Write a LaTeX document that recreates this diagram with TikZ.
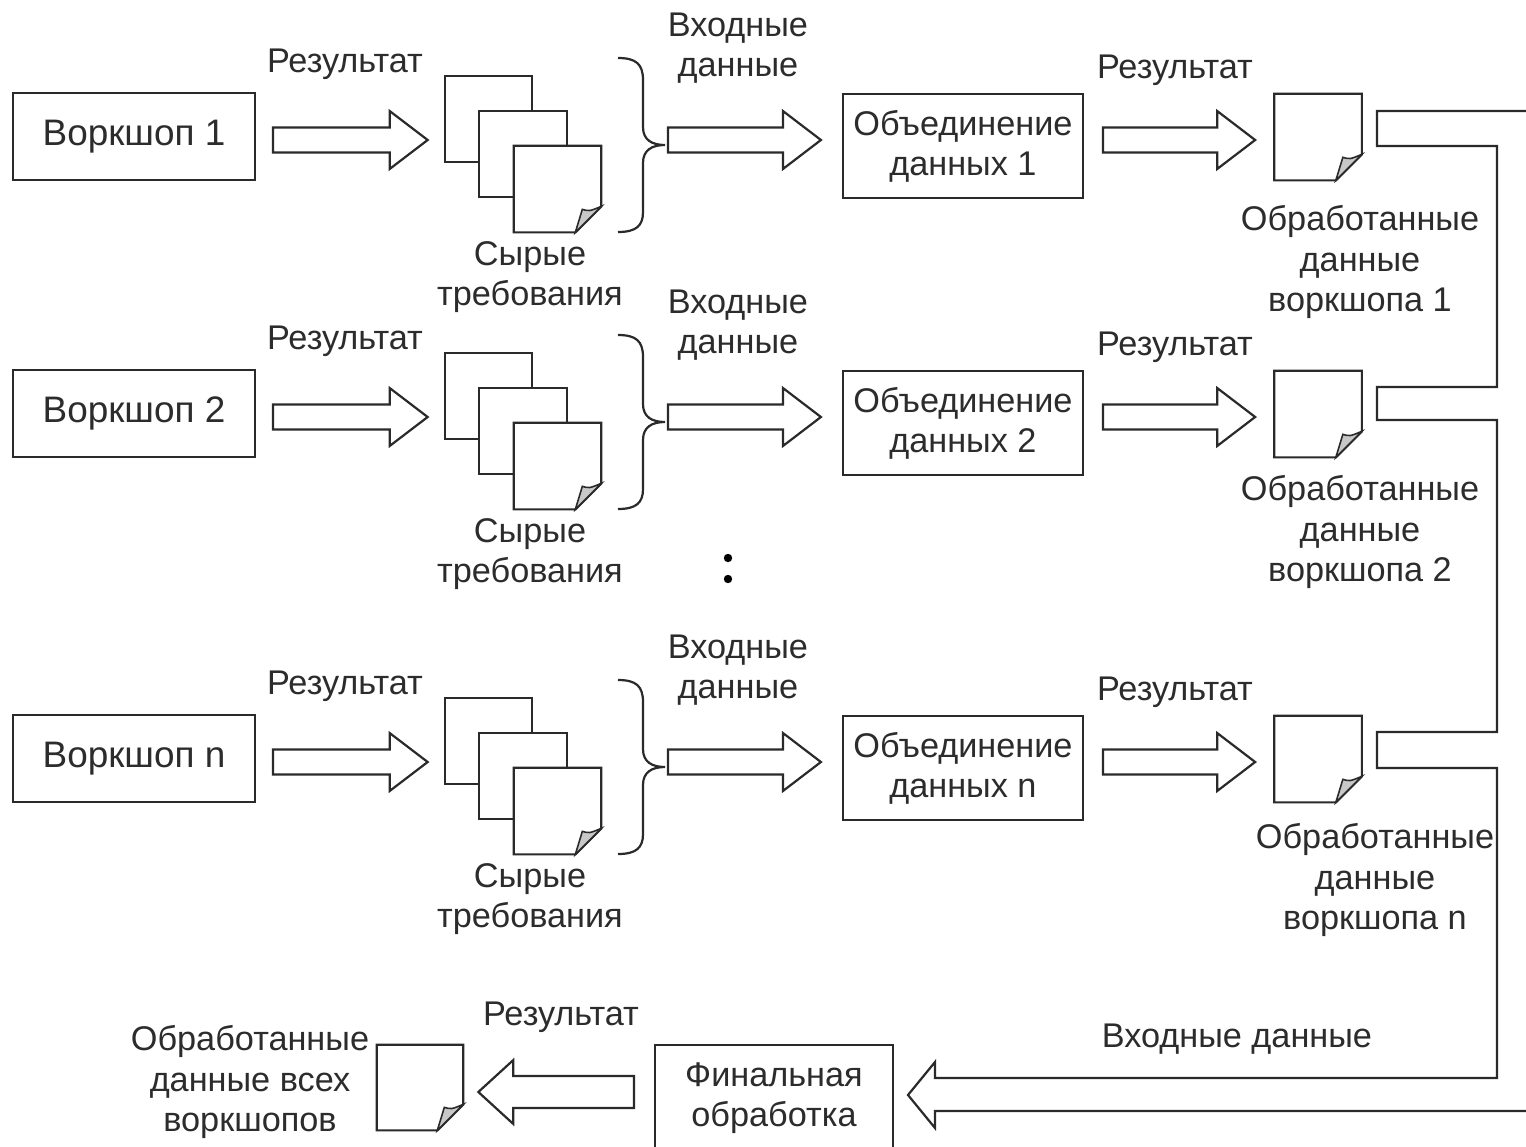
\documentclass[tikz,border=0pt]{standalone}
\usepackage{fontspec}
\setmainfont{Liberation Sans}
\usetikzlibrary{calc}
\definecolor{ink}{HTML}{2A2A2A}
\definecolor{txt}{HTML}{2C2C2C}
\definecolor{foldgray}{HTML}{C8C8C8}
\tikzset{
  ln/.style={draw=ink, line width=1.25pt, line join=miter},
  wbox/.style={ln, rectangle, inner sep=0pt, align=center, text=txt, font=\fontsize{19.5}{22.8}\selectfont},
  lbl/.style={align=center, text=txt, font=\fontsize{19.5}{22.8}\selectfont, inner sep=0pt},
  docnode/.style={rectangle, inner sep=0pt, minimum width=1.74cm, minimum height=1.72cm},
  fatR/.style={ln, fill=white, to path={let \p1=(\tikztostart), \p2=(\tikztotarget) in
     (\x1,{\y1+0.25cm}) -- ({\x2-0.76cm},{\y1+0.25cm}) -- ({\x2-0.76cm},{\y1+0.58cm}) -- (\x2,\y1)
     -- ({\x2-0.76cm},{\y1-0.58cm}) -- ({\x2-0.76cm},{\y1-0.25cm}) -- (\x1,{\y1-0.25cm}) -- cycle}},
  fatL/.style={ln, fill=white, to path={let \p1=(\tikztostart), \p2=(\tikztotarget) in
     (\x1,{\y1+0.32cm}) -- ({\x2+0.7cm},{\y1+0.32cm}) -- ({\x2+0.7cm},{\y1+0.64cm}) -- (\x2,\y1)
     -- ({\x2+0.7cm},{\y1-0.64cm}) -- ({\x2+0.7cm},{\y1-0.32cm}) -- (\x1,{\y1-0.32cm}) -- cycle}},
}
\newcommand\docfold[1]{%
  \draw[ln, fill=white] (#1.north west) -- (#1.north east) -- ($(#1.south east)+(0,-26)$)
     -- ($(#1.south east)+(-26,0)$) -- (#1.south west) -- cycle;
  \draw[ln, line width=0.9pt, fill=foldgray] ($(#1.south east)+(-26,0)$) -- ($(#1.south east)+(-19,-23)$)
     .. controls ($(#1.south east)+(-12,-21)$) .. ($(#1.south east)+(0,-26)$) -- cycle;
}
\newcommand\wsrow[5]{%
  \node[wbox, minimum width=4.84cm, minimum height=1.74cm, font=\fontsize{21}{24}\selectfont] (w#1) at (134,{136.5+#3}) {Воркшоп #2};
  \node[lbl] (r#1) at (345,{64+#3}) {Результат};
  \node[docnode] (s#1a) at (488.5,{119+#3}) {};
  \node[docnode] (s#1b) at (523,{154+#3}) {};
  \node[docnode] (s#1c) at (557.5,{189+#3}) {};
  \draw[ln, fill=white] (s#1a.north west) rectangle (s#1a.south east);
  \draw[ln, fill=white] (s#1b.north west) rectangle (s#1b.south east);
  \docfold{s#1c}
  \node[lbl] (sy#1) at (530,{277+#3}) {Сырые\\требования};
  \coordinate (br#1) at (665,{145+#3});
  \draw[ln] (618,{58+#3}) .. controls (636,{58+#3}) and (643,{64+#3}) .. (643,{80+#3})
     -- (643,{127+#3}) .. controls (643,{140+#3}) and (652,{145+#3}) .. (br#1)
     .. controls (652,{145+#3}) and (643,{150+#3}) .. (643,{163+#3})
     -- (643,{212+#3}) .. controls (643,{226+#3}) and (636,{232+#3}) .. (618,{232+#3});
  \node[lbl] (in#1) at (738,{48+#3}) {Входные\\данные};
  \node[wbox, minimum width=4.8cm, minimum height=2.08cm] (m#1) at (963,{146+#3}) {Объединение\\данных #2};
  \node[lbl] (rr#1) at (1175,{70+#3}) {Результат};
  \node[docnode] (p#1) at (1318,{137+#3}) {};
  \docfold{p#1}
  \node[lbl] (o#1) at (#4,#5) {Обработанные\\данные\\воркшопа #2};
  \draw[fatR] ($(w#1.east)+(17,3.5)$) to ($(s#1a.west)+(-17,0)$);
  \draw[fatR] ($(br#1)+(3,-5)$) to ($(m#1.west)+(-21,0)$);
  \draw[fatR] ($(m#1.east)+(19,-6)$) to ($(p#1.west)+(-19,0)$);
}
\begin{document}
\begin{tikzpicture}[x=0.02cm, y=-0.02cm]
  \useasboundingbox (0,0) rectangle (1526,1147);
  \clip (0,0) rectangle (1526,1147);
  \fill[white] (0,0) rectangle (1526,1147);

  \wsrow{1}{1}{0}{1360}{262}
  \wsrow{2}{2}{277}{1360}{532}
  \wsrow{n}{n}{622}{1375}{880}

  % dots
  \fill[black] (728,558) circle (4.2);
  \fill[black] (728,579) circle (4.2);

  % final block
  \node[wbox, minimum width=4.76cm, minimum height=2.12cm] (f) at (774,1098) {Финальная\\обработка};
  \node[docnode, minimum width=1.72cm, minimum height=1.7cm] (pf) at (420,1087.5) {};
  \docfold{pf}
  \node[lbl] (of) at (250,1082) {Обработанные\\данные всех\\воркшопов};
  \node[lbl] (rf) at (561,1017) {Результат};
  \draw[fatL] ($(f.west)+(-20,-6)$) to ($(pf.east)+(15,0)$);

  % collecting pipe
  \coordinate (tipF) at (908,1095);
  \draw[ln] (1530,111) -- (1377,111) -- (1377,146) -- (1497,146) -- (1497,387)
     -- (1377,387) -- (1377,420) -- (1497,420) -- (1497,732) -- (1377,732) -- (1377,768)
     -- (1497,768) -- (1497,1078) -- (935,1078) -- (935,1062) -- (tipF) -- (935,1128)
     -- (935,1111) -- (1530,1111);
  \node[lbl] (inF) at (1237,1039) {Входные данные};
\end{tikzpicture}
\end{document}
